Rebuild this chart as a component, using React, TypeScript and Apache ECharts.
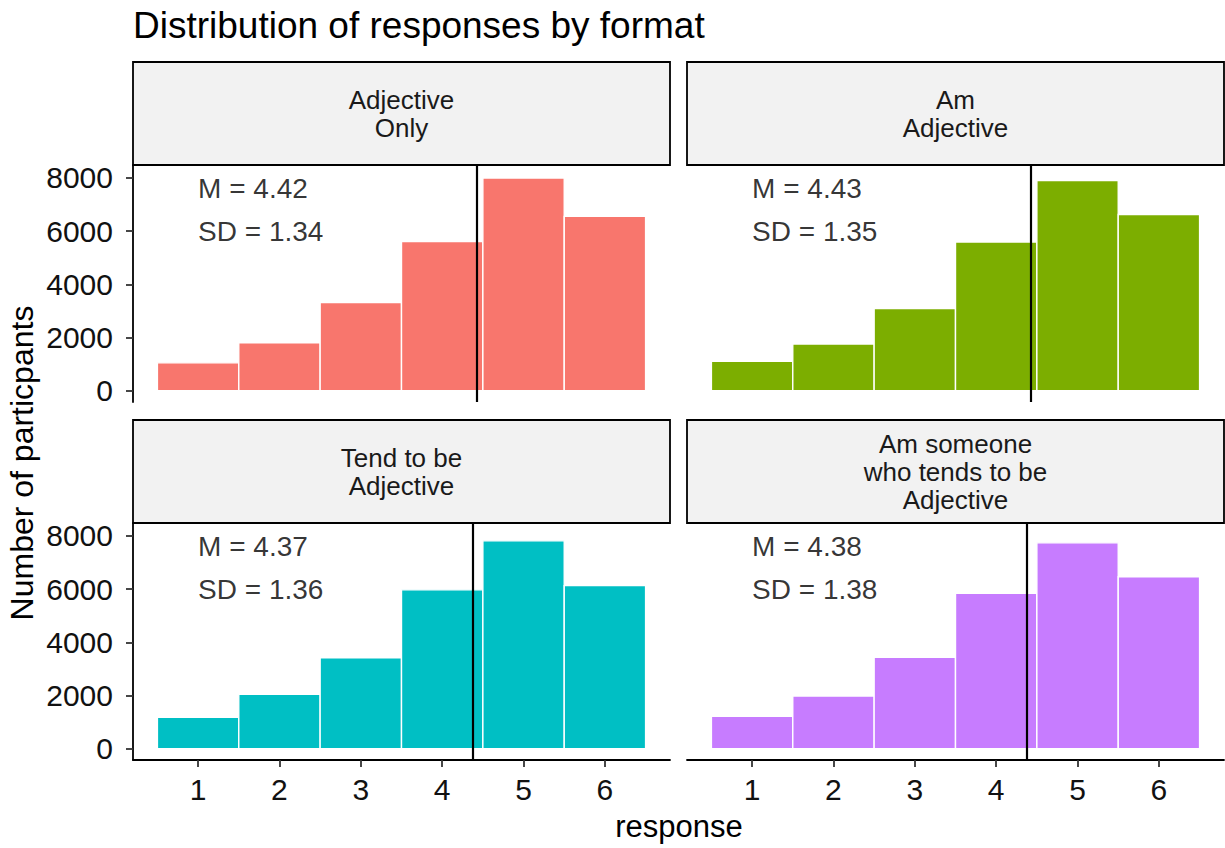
import { useEffect, useRef } from "react";
import * as echarts from "echarts";

// Response categories (1–6) and the counts of each response per question format
const responses = [1, 2, 3, 4, 5, 6];
const formatLabels = [
  "Adjective\nOnly",
  "Am\nAdjective",
  "Tend to be\nAdjective",
  "Am someone\nwho tends to be\nAdjective",
];
const countsAdjectiveOnly = [1050, 1805, 3310, 5605, 7990, 6550];
const countsAmAdjective = [1110, 1755, 3090, 5590, 7900, 6620];
const countsTendToBe = [1185, 2045, 3420, 5970, 7810, 6130];
const countsAmSomeone = [1225, 1980, 3435, 5840, 7735, 6460];
const meanResponse = [4.42, 4.43, 4.37, 4.38];
const sdResponse = [1.34, 1.35, 1.36, 1.38];
const yTicks = [0, 2000, 4000, 6000, 8000];
const xTicks = [1, 2, 3, 4, 5, 6];

const allCounts = [countsAdjectiveOnly, countsAmAdjective, countsTendToBe, countsAmSomeone];
const fillColors = ["#F8766D", "#7CAE00", "#00BFC4", "#C77CFF"];

// panel geometry (px)
const panelLeft = [133, 687, 133, 687];
const panelTop = [165, 165, 523, 523];
const panelW = 537;
const panelH = 237;
const stripH = 103;

const X_MIN = 0.2;
const X_MAX = 6.8;
const Y_MIN = -420;
const Y_MAX = 8480;
const INK = "#000000";
const TEXT = "#111111";
const FONT = "'Liberation Sans', Arial, Helvetica, sans-serif";

export default function App() {
  const ref = useRef<HTMLDivElement>(null);

  useEffect(() => {
    if (!ref.current) return;
    const chart = echarts.init(ref.current, undefined, { renderer: "svg" });

    const grids = panelLeft.map((l, i) => ({
      left: l,
      top: panelTop[i],
      width: panelW,
      height: panelH,
      containLabel: false,
    }));

    const xAxes = panelLeft.map((_, i) => {
      const bottomRow = i >= 2;
      return {
        type: "value",
        gridIndex: i,
        min: X_MIN,
        max: X_MAX,
        splitLine: { show: false },
        axisLine: { show: bottomRow, onZero: false, lineStyle: { color: INK, width: 1.8 } },
        axisTick: {
          show: bottomRow,
          length: 7,
          lineStyle: { color: "#333", width: 1.8 },
          customValues: xTicks,
        },
        axisLabel: {
          show: bottomRow,
          customValues: xTicks,
          formatter: (v: number) => String(v),
          margin: 14,
          fontSize: 30,
          color: TEXT,
          fontFamily: FONT,
        },
      };
    });

    const yAxes = panelLeft.map((_, i) => {
      const leftCol = i % 2 === 0;
      return {
        type: "value",
        gridIndex: i,
        min: Y_MIN,
        max: Y_MAX,
        splitLine: { show: false },
        axisLine: { show: leftCol, onZero: false, lineStyle: { color: INK, width: 1.8 } },
        axisTick: {
          show: leftCol,
          length: 7,
          lineStyle: { color: "#333", width: 1.8 },
          customValues: yTicks,
        },
        axisLabel: {
          show: leftCol,
          customValues: yTicks,
          formatter: (v: number) => String(v),
          margin: 20,
          fontSize: 30,
          color: TEXT,
          fontFamily: FONT,
        },
      };
    });

    const series: any[] = [];
    allCounts.forEach((counts, i) => {
      const color = fillColors[i];
      series.push({
        type: "custom",
        xAxisIndex: i,
        yAxisIndex: i,
        encode: { x: 0, y: 1 },
        data: responses.map((r, k) => [r, counts[k]]),
        renderItem: (params: any, api: any) => {
          const x = api.value(0);
          const y = api.value(1);
          const p0 = api.coord([x - 0.5, 0]);
          const p1 = api.coord([x + 0.5, y]);
          return {
            type: "rect",
            shape: { x: p0[0], y: p1[1], width: p1[0] - p0[0], height: p0[1] - p1[1] },
            style: { fill: color, stroke: "#ffffff", lineWidth: 1.4 },
          };
        },
        silent: true,
      });
      // mean line and the M / SD annotations
      series.push({
        type: "scatter",
        xAxisIndex: i,
        yAxisIndex: i,
        symbolSize: 0,
        silent: true,
        label: {
          show: true,
          position: "right",
          distance: 0,
          fontSize: 28,
          color: INK,
          fontFamily: FONT,
        },
        data: [
          { value: [1, 7600], label: { formatter: `M = ${meanResponse[i].toFixed(2)}` } },
          { value: [1, 6000], label: { formatter: `SD = ${sdResponse[i].toFixed(2)}` } },
        ],
        markLine: {
          silent: true,
          symbol: ["none", "none"],
          label: { show: false },
          lineStyle: { color: INK, width: 2.2, type: "solid" },
          data: [{ xAxis: meanResponse[i] }],
        },
      });
    });

    const graphics: any[] = [];
    formatLabels.forEach((txt, i) => {
      graphics.push({
        type: "rect",
        shape: { x: panelLeft[i], y: panelTop[i] - stripH, width: panelW, height: stripH },
        style: { fill: "#F2F2F2", stroke: INK, lineWidth: 1.8 },
        z: 10,
      });
      graphics.push({
        type: "text",
        x: panelLeft[i] + panelW / 2,
        y: panelTop[i] - stripH / 2,
        style: {
          text: txt,
          fontSize: 26,
          lineHeight: 28,
          fill: "#1a1a1a",
          fontFamily: FONT,
          align: "center",
          verticalAlign: "middle",
        },
        z: 11,
      });
    });
    graphics.push({
      type: "text",
      x: 133,
      y: 25,
      style: {
        text: "Distribution of responses by format",
        fontSize: 37,
        fill: INK,
        fontFamily: FONT,
        align: "left",
        verticalAlign: "middle",
      },
    });
    graphics.push({
      type: "text",
      x: 679,
      y: 826,
      style: {
        text: "response",
        fontSize: 31,
        fill: INK,
        fontFamily: FONT,
        align: "center",
        verticalAlign: "middle",
      },
    });
    graphics.push({
      type: "text",
      x: 22,
      y: 463,
      rotation: Math.PI / 2,
      style: {
        text: "Number of particpants",
        fontSize: 32,
        fill: INK,
        fontFamily: FONT,
        align: "center",
        verticalAlign: "middle",
      },
    });

    chart.setOption({
      animation: false,
      backgroundColor: "#ffffff",
      grid: grids,
      xAxis: xAxes,
      yAxis: yAxes,
      series,
      graphic: graphics,
    });

    return () => chart.dispose();
  }, []);

  return (
    <div
      ref={ref}
      style={{ position: "fixed", left: 0, top: 0, width: 1225, height: 848, background: "#fff" }}
    />
  );
}
